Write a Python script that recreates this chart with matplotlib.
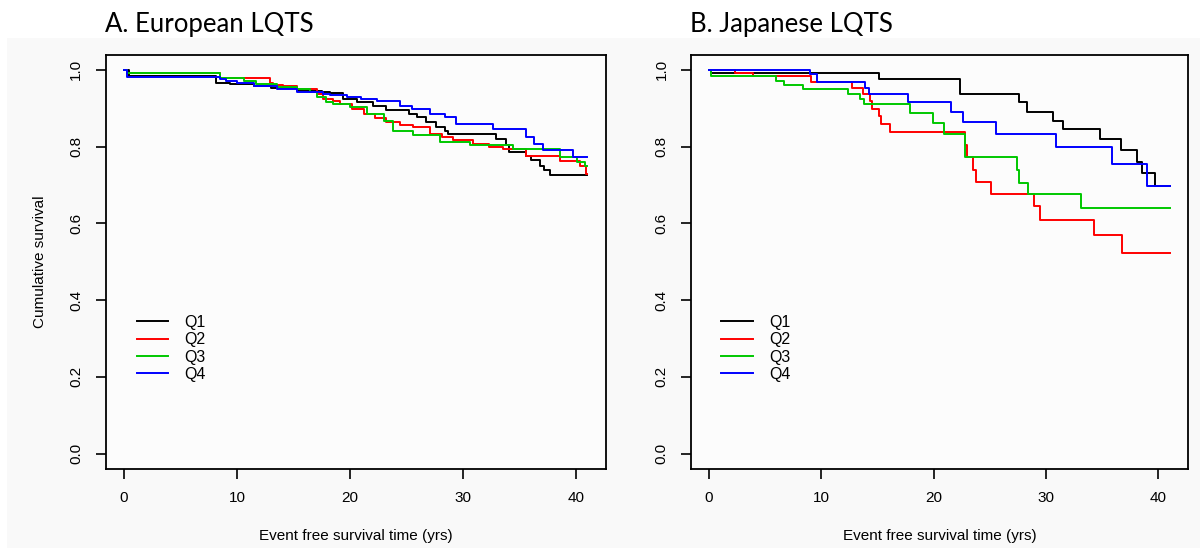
import matplotlib.pyplot as plt
from matplotlib.patches import Rectangle

# ---- data (Kaplan-Meier steps) ----
groups = ['Q1', 'Q2', 'Q3', 'Q4']
colors = ['#000000', '#FF0000', '#00C800', '#0000FF']

# A. European LQTS
eu_q1_t = [0, 0.4, 8.1, 9.4, 11.5, 13.0, 15.3, 17.5, 18.2, 19.4, 20.6, 22.0, 23.2, 25.2, 25.9, 26.7, 27.6,
           28.4, 28.7, 32.9, 33.8, 34.1, 35.6, 36.0, 36.8, 37.2, 37.7, 41]
eu_q1_s = [1.0, 0.984, 0.966, 0.962, 0.958, 0.952, 0.945, 0.942, 0.939, 0.924, 0.915, 0.905, 0.895, 0.886, 0.876,
           0.863, 0.852, 0.841, 0.833, 0.820, 0.803, 0.785, 0.776, 0.764, 0.750, 0.738, 0.726, 0.726]
eu_q2_t = [0, 0.3, 8.5, 12.9, 13.2, 14.1, 15.3, 17.1, 17.6, 18.5, 19.1, 20.2, 21.2, 22.2, 23.2, 24.4, 25.6, 27.1,
           28.1, 29.1, 30.9, 32.3, 33.5, 35.6, 38.6, 40.4, 40.9, 41]
eu_q2_s = [1.0, 0.991, 0.978, 0.967, 0.960, 0.958, 0.950, 0.937, 0.924, 0.918, 0.911, 0.898, 0.885, 0.874, 0.863,
           0.857, 0.850, 0.833, 0.825, 0.816, 0.807, 0.798, 0.794, 0.776, 0.763, 0.750, 0.728, 0.728]
eu_q3_t = [0, 0.3, 8.5, 10.6, 11.7, 13.5, 15.3, 16.5, 17.1, 17.9, 18.5, 20.0, 21.5, 23.0, 23.8, 25.6, 28.0, 30.6,
           34.4, 38.6, 40.1, 40.8, 41]
eu_q3_s = [1.0, 0.993, 0.980, 0.970, 0.963, 0.955, 0.950, 0.941, 0.929, 0.916, 0.912, 0.902, 0.885, 0.868, 0.841,
           0.829, 0.811, 0.803, 0.794, 0.772, 0.759, 0.750, 0.750]
eu_q4_t = [0, 0.3, 8.5, 9.0, 10.0, 11.5, 13.5, 15.3, 17.6, 18.2, 19.7, 21.0, 22.4, 24.4, 25.5, 27.1, 28.4, 29.4,
           32.7, 35.6, 36.3, 37.1, 39.7, 41]
eu_q4_s = [1.0, 0.982, 0.976, 0.971, 0.965, 0.958, 0.950, 0.941, 0.937, 0.935, 0.930, 0.924, 0.918, 0.906, 0.898,
           0.885, 0.876, 0.860, 0.846, 0.826, 0.807, 0.790, 0.774, 0.774]

# B. Japanese LQTS
jp_q1_t = [0, 0.2, 15.1, 22.3, 27.6, 28.3, 30.6, 31.5, 34.8, 36.7, 38.1, 38.5, 39.7, 41]
jp_q1_s = [1.0, 0.991, 0.976, 0.937, 0.915, 0.890, 0.868, 0.845, 0.820, 0.792, 0.761, 0.730, 0.697, 0.697]
jp_q2_t = [0, 2.3, 3.9, 9.1, 12.7, 13.7, 14.3, 14.5, 15.1, 15.3, 16.1, 22.8, 23.0, 23.5, 23.8, 25.1, 28.9, 29.5,
           34.3, 36.8, 41]
jp_q2_s = [1.0, 0.991, 0.985, 0.969, 0.952, 0.937, 0.919, 0.899, 0.880, 0.858, 0.839, 0.805, 0.772, 0.739, 0.707,
           0.676, 0.645, 0.609, 0.570, 0.523, 0.523]
jp_q3_t = [0, 0.2, 5.96, 6.7, 8.4, 12.4, 13.4, 13.8, 17.9, 19.9, 20.9, 22.8, 27.4, 27.6, 28.4, 33.1, 41]
jp_q3_s = [1.0, 0.983, 0.972, 0.961, 0.950, 0.938, 0.924, 0.910, 0.887, 0.861, 0.832, 0.772, 0.739, 0.706, 0.676,
           0.641, 0.641]
jp_q4_t = [0, 9.0, 9.6, 13.9, 14.2, 17.7, 21.5, 22.6, 25.5, 30.9, 35.9, 39.0, 41]
jp_q4_s = [1.0, 0.989, 0.968, 0.952, 0.938, 0.917, 0.890, 0.864, 0.832, 0.799, 0.755, 0.697, 0.697]

panel_titles = ['A. European LQTS', 'B. Japanese LQTS']
x_label = 'Event free survival time (yrs)'
y_label = 'Cumulative survival'
x_ticks = [0, 10, 20, 30, 40]
y_ticks = [0.0, 0.2, 0.4, 0.6, 0.8, 1.0]

panels = [
    [(eu_q1_t, eu_q1_s), (eu_q2_t, eu_q2_s), (eu_q3_t, eu_q3_s), (eu_q4_t, eu_q4_s)],
    [(jp_q1_t, jp_q1_s), (jp_q2_t, jp_q2_s), (jp_q3_t, jp_q3_s), (jp_q4_t, jp_q4_s)],
]

plt.rcParams['font.family'] = ['Liberation Sans', 'DejaVu Sans']

fig = plt.figure(figsize=(12, 5.48), dpi=100, facecolor='white')
W, H = 1200, 548

# light grey device background behind both panels
fig.patches.append(Rectangle((7 / W, 0), 1 - 7 / W, 1 - 38 / H, transform=fig.transFigure,
                             facecolor='#f9f9f9', edgecolor='none', zorder=-5))

axes_px = [(105.5, 500.3), (690.6, 497.5)]  # left edge, width in pixels
bottom = 1 - 469 / H
height = (469 - 54.5) / H
title_x = [105, 690]

for i, (curves, (lpx, wpx)) in enumerate(zip(panels, axes_px)):
    ax = fig.add_axes([lpx / W, bottom, wpx / W, height])
    ax.set_zorder(2)
    ax.set_facecolor('#fcfcfc')
    for (t, s), name, c in zip(curves, groups, colors):
        ax.step(t, s, where='post', color=c, lw=1.4, label=name)

    ax.set_xlim(-1.64, 42.64)
    ax.set_ylim(-0.04, 1.04)
    ax.set_xticks(x_ticks)
    ax.set_yticks(y_ticks)
    ax.set_yticklabels([f'{v:.1f}' for v in y_ticks], rotation=90, va='center')
    ax.tick_params(direction='out', length=7, width=1.2, labelsize=11, pad=9, color='black')
    ax.tick_params(axis='x', pad=9)
    for sp in ax.spines.values():
        sp.set_linewidth(1.3)

    ax.set_xlabel(x_label, fontsize=11, labelpad=17)
    if i == 0:
        ax.set_ylabel(y_label, fontsize=11, labelpad=16)

    ax.legend(loc='upper left', bbox_to_anchor=(0.062, 0.372), frameon=False, fontsize=11.5,
              handlelength=2.0, handletextpad=1.0, labelspacing=0.15, borderpad=0, borderaxespad=0)

    fig.text(title_x[i] / W, 1 - 32 / H, panel_titles[i], fontsize=18.5, family=['Lato', 'DejaVu Sans'],
             va='baseline', ha='left')

fig.savefig('out.png', dpi=100, facecolor=fig.get_facecolor())
